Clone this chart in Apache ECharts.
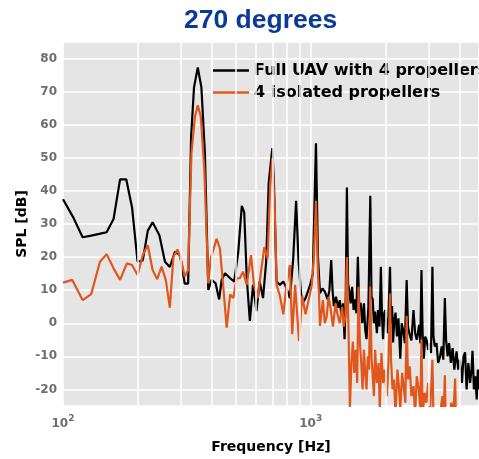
<!DOCTYPE html>
<html>
<head>
<meta charset="utf-8">
<script src="https://cdn.jsdelivr.net/npm/echarts@6/dist/echarts.min.js"></script>
<style>html,body{margin:0;padding:0;background:#fff}#c{width:479px;height:459px}</style>
</head>
<body>
<div id="c"></div>
<script>
const titleText = '270 degrees';
const seriesNames = ['Full UAV with 4 propellers', '4 isolated propellers'];
const xMinorTicks = [200, 300, 400, 500, 600, 700, 800, 900, 2000, 3000, 4000];

const freqFull = [100,110,120,130,140,150,160,170,180,190,200,210,220,230,245,258,270,283,297,310,320,329,338,350,362,374,386,398,413,427,437,451,473,491,510,527,539,552,568,585,604,622,642,661,677,700,711,728,751,775,799,824,850,873,892,921,953,995,1020,1050,1070,1090,1115,1140,1170,1190,1210,1225,1240,1265,1290,1310,1330,1350,1370,1385,1400,1415,1430,1450,1470,1490,1510,1530,1550,1570,1590,1615,1640,1660,1680,1710,1740,1760,1780,1800,1820,1850,1870,1895,1920,1940,1960,1980,2000,2030,2060,2090,2110,2130,2150,2175,2200,2230,2260,2300,2330,2360,2400,2440,2470,2500,2550,2600,2640,2680,2740,2770,2800,2830,2860,2900,2940,2980,3020,3060,3100,3130,3170,3220,3270,3330,3380,3430,3480,3520,3570,3620,3680,3740,3800,3880,3940,4000,4080,4140,4200,4260,4330,4400,4460,4500,4560,4620,4680,4730,4780];
const splFull = [37.5,32,26,26.5,27,27.5,31.5,43.5,43.5,35,18.6,19,28,30.5,26.6,18.6,17,21.6,20.6,12,12,56.4,71.3,77.3,71.3,51.4,10.1,13.1,12.1,7.2,13.1,15.1,13.6,12.6,21.6,35.5,33.5,13.6,0.7,11.6,3.7,12.6,7.6,18.6,42.5,52.9,41.5,12.6,11.6,12.6,10.6,7.6,19.6,37,19.6,5.7,7.6,11.6,15,54.4,20,9.1,10.5,9.6,7.2,10,19.1,10,5.2,8,4.7,7,2.2,6,-4.8,8,41,12,10.1,6,11,4,7.2,3,20.1,5,6.2,0,6,-2,-4.8,5,38.5,8,7.2,0,3.5,-3,4,-1,17.1,2,-4.8,3,4,-3,2,17.1,0,5.2,-5.8,1,3.2,-4,1.5,-10.7,0,-2,-6,13.1,-1,-3,-5.2,4,-3,-5,-0.5,-6,16.1,-3,-10.7,-4,-5.2,-8,-6,-9,17.1,-4,-7,-6,-12,-10,-7,-11,7.6,-5,-10,-6,-12,-7.5,-14,-8.5,-14,-11,-18,-10,-8.8,-20,-12,-18,-14,-8.3,-20,-16,-23,-14,-20];

const freqIso = [100,109,120,130,141,150,160,170,181,190,200,210,220,230,240,250,260,270,279,290,301,310,320,330,341,350,360,372,386,395,417,430,443,458,473,487,502,518,533,552,574,590,611,630,650,670,686,700,718,728,751,775,799,824,842,865,897,924,953,985,1010,1030,1050,1070,1080,1090,1120,1140,1160,1180,1200,1230,1260,1280,1310,1340,1360,1380,1400,1420,1440,1460,1480,1500,1520,1540,1560,1580,1600,1620,1640,1660,1680,1700,1720,1740,1760,1780,1800,1820,1850,1880,1900,1930,1960,1990,2030,2060,2090,2110,2140,2170,2200,2240,2270,2300,2340,2380,2410,2440,2470,2510,2550,2600,2640,2680,2730,2770,2800,2830,2880,2930,2980,3030,3060,3100,3130,3180,3300,3400,3440,3480,3510,3600,3700,3750,3830,3860,4000,4780];
const splIso = [12.3,13.1,7,8.8,18.6,20.9,16.6,13.1,18.1,17.6,14.6,20.6,23.6,16.1,13.3,17.1,13.1,4.7,20.1,22.3,18.6,14.1,16.1,51.4,62.4,65.9,62.4,46.5,12,19.6,25.5,22.6,11.6,-1.3,8.7,7.6,13.6,13.6,15.6,11.6,20.6,11.6,7.6,15.6,23,19.6,41.5,50,31.5,11.6,8.3,2.7,11.6,17.6,-3.3,11.6,-5.3,8.3,2.7,7.6,11.6,20,37,15,9,-0.8,7,0,2,8,5,-1,6,3,0,5,-1,2,20,-1,-25.5,-12,-5.5,-15,-8,-18,11,-6,-12,-20,-8,-15,-20,-10,-14,11,-10,-16,-22,-8,-18,-12,-26,-9,-18,-14,-22,-12,9,-11,-20,-17,-28,-14,-19,-26,-15,-20,-24,2.2,-17,-13,-22,-19,-28,-16,-20,-26,-4.8,-28,-21,-24,-18,-27,-21,-11,-28,-30,-30,-22,-28,-15.7,-30,-30,-24,-30,-16.7,-30,-30,-35];

function pairs(xs, ys) { return xs.map((x, i) => [x, ys[i]]); }

const chart = echarts.init(document.getElementById('c'), null, { renderer: 'canvas' });
const font = 'DejaVu Sans';
chart.setOption({
  animation: false,
  backgroundColor: '#ffffff',
  title: {
    text: titleText,
    left: 184, top: 7, padding: 0,
    textStyle: { color: '#0a3a97', fontSize: 26.5, fontWeight: 'bold', fontFamily: 'Liberation Sans' }
  },
  legend: {
    data: seriesNames,
    orient: 'vertical',
    left: 213, top: 61, padding: 0,
    icon: 'rect',
    itemWidth: 36, itemHeight: 2.6, itemGap: 3,
    textStyle: { color: '#000', fontSize: 16, fontWeight: 'bold', fontFamily: font, lineHeight: 19 }
  },
  grid: {
    left: 63, top: 42, right: 0, bottom: 48,
    show: true, backgroundColor: '#e5e5e5', borderWidth: 0
  },
  xAxis: {
    type: 'log', logBase: 10, min: 100, max: 4780,
    name: 'Frequency [Hz]', nameLocation: 'middle', nameGap: 34, nameMoveOverlap: false,
    nameTextStyle: { color: '#000', fontSize: 14, fontWeight: 'bold', fontFamily: font },
    axisLine: { show: false }, axisTick: { show: false },
    splitLine: { show: true, lineStyle: { color: '#ffffff', width: 1.5 } },
    axisLabel: {
      margin: 8, showMaxLabel: false,
      formatter: function (v) {
        const e = Math.round(Math.log10(v));
        if (Math.abs(Math.pow(10, e) - v) > 1e-6 * v) return '';
        return '{b|10}{s|' + e + '}';
      },
      rich: {
        b: { color: '#6e6e6e', fontSize: 12, fontWeight: 'bold', fontFamily: font, lineHeight: 16, verticalAlign: 'bottom' },
        s: { color: '#6e6e6e', fontSize: 9, fontWeight: 'bold', fontFamily: font, lineHeight: 9, verticalAlign: 'top' }
      }
    }
  },
  yAxis: {
    type: 'value', min: -25, max: 85, minInterval: 10, maxInterval: 10,
    name: 'SPL [dB]', nameLocation: 'middle', nameGap: 34, nameMoveOverlap: false,
    nameTextStyle: { color: '#000', fontSize: 14, fontWeight: 'bold', fontFamily: font },
    axisLine: { show: false }, axisTick: { show: false },
    splitLine: { show: true, lineStyle: { color: '#ffffff', width: 1.5 } },
    axisLabel: { showMinLabel: false, showMaxLabel: false, margin: 6, color: '#6e6e6e', fontSize: 12, fontWeight: 'bold', fontFamily: font }
  },
  series: [
    {
      name: 'minor-grid', type: 'line', data: [], silent: true, z: 1,
      markLine: {
        silent: true, symbol: ['none', 'none'], label: { show: false },
        lineStyle: { color: '#ffffff', width: 1.5, type: 'solid' },
        data: xMinorTicks.map(v => ({ xAxis: v }))
      }
    },
    {
      name: seriesNames[0], type: 'line', data: pairs(freqFull, splFull),
      symbol: 'none', showSymbol: false, clip: true, z: 3,
      lineStyle: { color: '#000000', width: 2.2 }, itemStyle: { color: '#000000' }
    },
    {
      name: seriesNames[1], type: 'line', data: pairs(freqIso, splIso),
      symbol: 'none', showSymbol: false, clip: true, z: 4,
      lineStyle: { color: '#e0561b', width: 2.2 }, itemStyle: { color: '#e0561b' }
    }
  ]
});
</script>
</body>
</html>
